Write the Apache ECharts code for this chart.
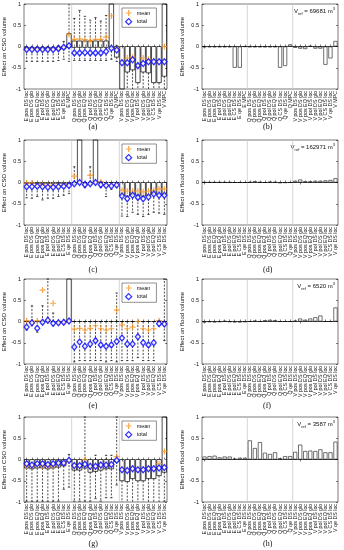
<!DOCTYPE html>
<html><head><meta charset="utf-8">
<script src="https://cdn.jsdelivr.net/npm/echarts@6/dist/echarts.min.js"></script>
<style>html,body{margin:0;padding:0;background:#fff}#c{width:344px;height:550px}</style>
</head><body><div id="c"></div>
<script>
// ---------- categories ----------
const labelsAB = ['E pos DS loc','E pos DS glo','E pos EQ loc','E pol DS loc','E pol DS glo','E pol EQ loc','E CS DS loc','E qe DS loc','E MPC',
  'Q pos DS loc','Q pos DS glo','Q pos EQ loc','Q pol DS loc','Q pol DS glo','Q pol EQ loc','Q CS DS loc','Q qe DS loc','Q MPC',
  'V pos DS loc','V pos DS glo','V pos EQ loc','V pol DS loc','V pol DS glo','V pol EQ loc','V CS DS loc','V qe DS loc','V MPC'];
const labelsCH = ['E pos DS loc','E pos DS glo','E pos EQ loc','E pos EQ glo','E pol DS loc','E pol DS glo','E pol EQ loc','E CS DS loc','E qe DS loc',
  'Q pos DS loc','Q pos DS glo','Q pos EQ loc','Q pos EQ glo','Q pol DS loc','Q pol DS glo','Q pol EQ loc','Q CS DS loc','Q qe DS loc',
  'V pos DS loc','V pos DS glo','V pos EQ loc','V pos EQ glo','V pol DS loc','V pol DS glo','V pol EQ loc','V CS DS loc','V qe DS loc'];
const yTicks = [-1, -0.5, 0, 0.5, 1];
const groupEnds = [8, 17];

// ---------- panel (a) ----------
const aLo   = [-0.35,-0.35,-0.35,-0.35,-0.35,-0.35,-0.33,-0.3,-0.35, -0.33,-0.33,-0.33,-0.33,-0.33,-0.33,-0.33,-0.3,-0.35, -1.5,-1.5,-1.5,-1.5,-1.5,-1.5,-1.5,-1.5,-1.5];
const aQ1   = [-0.08,-0.08,-0.08,-0.08,-0.08,-0.08,-0.07,-0.05,-0.02, -0.02,-0.02,-0.02,-0.02,-0.02,-0.02,-0.02,-0.02,-0.25, -1.2,-0.6,-0.55,-0.85,-0.6,-0.62,-0.85,-0.85,-0.7];
const aQ3   = [-0.02,-0.02,-0.02,-0.02,-0.02,-0.02,-0.01,0.0,0.3, 0.13,0.13,0.13,0.13,0.13,0.13,0.13,1.5,0.0, 0,0,0,0,0,0,0,0,1.5];
const aHi   = [0,0,0,0,0,0,0.02,0.12,1.5, 0.66,0.85,0.71,0.62,0.68,0.6,0.73,1.5,0.02, 0,0,0,0,0,0,0,0,1.5];
const aMean = [-0.06,-0.06,-0.06,-0.06,-0.06,-0.06,-0.04,-0.02,0.28, 0.17,0.18,0.16,0.14,0.17,0.17,0.22,0.72,-0.05, -0.37,-0.27,-0.25,-0.45,-0.27,-0.3,-0.36,-0.36,0.0];
const aTotal= [-0.07,-0.07,-0.07,-0.07,-0.07,-0.07,-0.05,-0.02,0.02, -0.15,-0.15,-0.14,-0.15,-0.15,-0.15,-0.12,-0.04,-0.08, -0.38,-0.38,-0.31,-0.45,-0.4,-0.36,-0.36,-0.36,-0.36];
// ---------- panel (b) ----------
const bFlood = [-0.015,-0.015,-0.015,-0.015,-0.015,-0.015,-0.5,-0.5,-0.005, -0.015,-0.015,-0.015,-0.015,-0.015,-0.015,-0.5,-0.46,0.05, -0.03,-0.05,-0.06,0.01,-0.05,-0.05,-0.43,-0.28,0.13];
// ---------- panel (c) ----------
const cLo   = [-0.36,-0.37,-0.33,-0.41,-0.37,-0.37,-0.33,-0.3,-0.26, -0.05,-0.03,-0.12,-0.05,-0.03,-0.12,-0.33,-0.16,-0.1, -0.79,-0.8,-0.7,-0.75,-0.8,-0.75,-0.7,-0.72,-0.75];
const cQ1   = [-0.02,-0.02,-0.02,-0.02,-0.02,-0.02,-0.02,-0.02,-0.02, 0,0,0,0,0,0,0,0,0, -0.3,-0.32,-0.28,-0.3,-0.32,-0.3,-0.26,-0.28,-0.28];
const cQ3   = [0,0,0,0,0,0,0,0,0, 0,1.5,0,0,1.5,0,0,0,0, 0,0,0,0,0,0,0,0,0];
const cHi   = [0,0,0,0,0,0,0,0,0, 0.37,1.5,0,0.37,1.5,0,0,0,0, 0,0,0,0,0,0,0,0,0];
const cMean = [-0.01,-0.01,-0.07,-0.05,-0.07,-0.06,-0.08,-0.06,-0.05, 0.15,0.0,-0.05,0.17,0.0,0.02,-0.06,-0.07,-0.05, -0.18,-0.2,-0.2,-0.2,-0.22,-0.2,-0.18,-0.15,-0.15];
const cTotal= [-0.1,-0.1,-0.09,-0.1,-0.11,-0.11,-0.1,-0.09,-0.07, -0.03,0.0,-0.05,-0.03,0.0,-0.05,-0.07,-0.08,-0.06, -0.32,-0.38,-0.3,-0.35,-0.38,-0.34,-0.27,-0.3,-0.3];
// ---------- panel (d) ----------
const dFlood = [0.005,0.005,0.005,0.005,0.005,0.005,0.0,0.0,0.0, 0.01,0.03,0.01,0.0,0.02,0.01,-0.01,-0.005,0.0, 0.04,0.07,0.03,0.03,0.04,0.04,0.05,0.06,0.1];
// ---------- panel (e) ----------
const eLo   = [-0.2,-0.1,-0.25,-0.05,-0.03,-0.1,-0.05,-0.05,-0.02, -0.95,-0.92,-0.92,-0.92,-0.92,-0.92,-0.95,-0.92,-0.95, -0.92,-0.92,-0.92,-0.85,-0.92,-0.92,-0.92,-0.1,-0.45];
const eQ1   = [0,0,0,0,0,0,0,0,0, 0,0,0,0,0,0,0,0,0, 0,0,0,0,0,0,0,0,0];
const eQ3   = [0,0,0,0,0,0,0,0,1.5, 0,0,0,0,0,0,0,0,0, 0,0,0,0,0,0,0,0,0];
const eHi   = [0,0.37,0,0.37,1.0,0.2,0,0,1.5, 0,0,0,0,0,0,0,0,0.67, 0,0,0,0,0,0,0,0.02,1.0];
const eMean = [0.02,-0.03,0.02,0.74,0.03,0.43,-0.02,-0.02,0.01, -0.18,-0.16,-0.2,-0.16,-0.1,-0.17,-0.2,-0.17,0.27, -0.08,-0.17,-0.13,0.0,-0.17,-0.2,-0.17,0.02,-0.05];
const eTotal= [-0.13,-0.03,-0.16,-0.02,0.03,-0.04,-0.03,-0.02,0.01, -0.6,-0.48,-0.58,-0.53,-0.45,-0.55,-0.58,-0.55,-0.47, -0.39,-0.53,-0.53,-0.36,-0.5,-0.55,-0.5,-0.05,-0.06];
// ---------- panel (f) ----------
const fFlood = [-0.02,-0.01,-0.02,-0.01,0.01,-0.01,-0.02,-0.02,-0.01, 0.0,0.02,0.0,0.03,0.04,0.03,0.0,0.0,0.0, 0.02,0.07,0.04,0.07,0.1,0.14,0.0,0.0,0.33];
// ---------- panel (g) ----------
const gLo   = [-0.98,-0.98,-0.98,-0.98,-0.98,-0.98,-0.98,-0.7,-0.65, -0.98,-0.98,-0.98,-0.98,-0.92,-0.98,-0.9,-0.9,-0.6, -1.5,-1.5,-1.5,-1.5,-1.5,-1.5,-1.5,-1.5,-0.98];
const gQ1   = [-0.2,-0.22,-0.2,-0.2,-0.22,-0.2,-0.18,-0.15,-0.05, -0.25,-0.25,-0.2,-0.3,-0.28,-0.25,-0.22,-0.22,-0.05, -0.5,-0.52,-0.45,-0.5,-0.5,-0.45,-0.45,-0.38,-0.3];
const gQ3   = [0,0,0,0,0,0,0,0,0, 0,0,0,0,0,0,0,0,0, 0,0,0,0,0,0,0,0,1.5];
const gHi   = [0,0,0,0,0,0,0,0,0.12, 0,0,1.0,0,0.1,0,0.1,0.1,1.0, 0,0,0,0,0,0,0,0,1.5];
const gMean = [-0.15,-0.15,-0.14,-0.15,-0.16,-0.15,-0.1,-0.1,-0.02, -0.16,-0.16,0.0,-0.18,-0.18,-0.15,-0.14,-0.14,0.07, -0.24,-0.26,-0.22,-0.24,-0.24,-0.22,-0.22,-0.1,0.19];
const gTotal= [-0.1,-0.13,-0.1,-0.1,-0.12,-0.1,-0.08,-0.08,-0.02, -0.14,-0.14,-0.11,-0.16,-0.16,-0.13,-0.13,-0.12,-0.02, -0.24,-0.26,-0.22,-0.24,-0.24,-0.22,-0.22,-0.2,-0.19];
// ---------- panel (h) ----------
const hFlood = [0.07,0.08,0.09,0.05,0.07,0.07,0.02,0.04,0.04, 0.45,0.27,0.41,0.16,0.13,0.17,0.03,0.08,0.08, 0.18,0.35,0.2,0.21,0.2,0.24,0.17,0.17,0.42];
// ---------- annotation texts ----------
const vrefTexts = ['69681', '162971', '6520', '3587'];
const letters = ['(a)','(b)','(c)','(d)','(e)','(f)','(g)','(h)'];

// ---------- layout ----------
const FONT = 'Liberation Sans, Arial, sans-serif';
const ORANGE = '#f7931e', BLUE = '#0000ff';
const LPOS = {left: 24, width: 143}, RPOS = {left: 202, width: 136};
const TOPS = [4, 140, 279, 417], H = 85;
const LETTER_Y = [128, 271, 407, 545];

const csoPanels = [
  {labels: labelsAB, lo: aLo, q1: aQ1, q3: aQ3, hi: aHi, mean: aMean, total: aTotal},
  {labels: labelsCH, lo: cLo, q1: cQ1, q3: cQ3, hi: cHi, mean: cMean, total: cTotal},
  {labels: labelsCH, lo: eLo, q1: eQ1, q3: eQ3, hi: eHi, mean: eMean, total: eTotal},
  {labels: labelsCH, lo: gLo, q1: gQ1, q3: gQ3, hi: gHi, mean: gMean, total: gTotal}
];
const floodPanels = [
  {labels: labelsAB, v: bFlood}, {labels: labelsCH, v: dFlood},
  {labels: labelsCH, v: fFlood}, {labels: labelsCH, v: hFlood}
];

const grid = [], xAxis = [], yAxis = [], series = [], legend = [], graphic = [];
const PLUS = 'path://M4,0H6V4H10V6H6V10H4V6H0V4H4Z';
const clamp = v => Math.max(-1, Math.min(1, v));

function addAxes(gi, labels, name) {
  const tick = {show: true, inside: true, length: 2, alignWithLabel: true, lineStyle: {color: '#000', width: 0.5}};
  const xi = xAxis.length;
  xAxis.push({gridIndex: gi, type: 'category', data: labels, position: 'bottom',
    axisLine: {show: false}, axisTick: tick, splitLine: {show: false},
    axisLabel: {rotate: 90, interval: 0, fontSize: 5.3, margin: 2, color: '#111', fontFamily: FONT}});
  xAxis.push({gridIndex: gi, type: 'category', data: labels, position: 'top',
    axisLine: {show: false}, axisTick: tick, axisLabel: {show: false}, splitLine: {show: false}});
  const yi = yAxis.length;
  const ytick = {show: true, inside: true, length: 2, lineStyle: {color: '#000', width: 0.5}};
  yAxis.push({gridIndex: gi, type: 'value', min: yTicks[0], max: yTicks[yTicks.length - 1], interval: 0.5,
    position: 'left', axisLine: {show: false}, axisTick: ytick, splitLine: {show: false},
    axisLabel: {fontSize: 5.5, margin: 3, color: '#111', fontFamily: FONT},
    name: name, nameLocation: 'middle', nameGap: 16,
    nameTextStyle: {fontSize: 6, color: '#111', fontFamily: FONT}});
  yAxis.push({gridIndex: gi, type: 'value', min: yTicks[0], max: yTicks[yTicks.length - 1], interval: 0.5,
    position: 'right', axisLine: {show: false}, axisTick: ytick, axisLabel: {show: false}, splitLine: {show: false}});
  return {xi, yi};
}

function sepSeries(ax) {
  return {type: 'custom', xAxisIndex: ax.xi, yAxisIndex: ax.yi, silent: true, z: 1,
    data: groupEnds.map(g => [g]),
    renderItem: (p, api) => {
      const i = api.value(0);
      const x = (api.coord([i, 0])[0] + api.coord([i + 1, 0])[0]) / 2;
      const y0 = api.coord([i, -1])[1], y1 = api.coord([i, 1])[1];
      return {type: 'line', shape: {x1: x, y1: y0, x2: x, y2: y1}, style: {stroke: '#cccccc', lineWidth: 0.8}};
    }};
}

for (let r = 0; r < 4; r++) {
  const cp = csoPanels[r];
  let gi = grid.length;
  grid.push({left: LPOS.left, width: LPOS.width, top: TOPS[r], height: H, show: true,
    borderColor: '#222', borderWidth: 0.6, backgroundColor: '#fff'});
  let ax = addAxes(gi, cp.labels, 'Effect on CSO volume');
  series.push(sepSeries(ax));
  series.push({type: 'custom', name: 'box', xAxisIndex: ax.xi, yAxisIndex: ax.yi, silent: true, z: 2,
    data: cp.labels.map((_, i) => [i, cp.lo[i], cp.q1[i], cp.q3[i], cp.hi[i]]),
    renderItem: (p, api) => {
      const i = api.value(0), lo = api.value(1), q1 = api.value(2), q3 = api.value(3), hi = api.value(4);
      const bw = api.size([1, 0])[0];
      const x = api.coord([i, 0])[0];
      const Y = v => api.coord([i, clamp(v)])[1];
      const hb = bw * 0.42, hc = bw * 0.22;
      const dash = {stroke: '#000', lineWidth: 0.7, lineDash: [2, 1.5]};
      const solid = {stroke: '#000', lineWidth: 0.7};
      const ch = [];
      if (hi > q3) {
        ch.push({type: 'line', shape: {x1: x, y1: Y(q3), x2: x, y2: Y(hi)}, style: dash});
        if (hi <= 1) ch.push({type: 'line', shape: {x1: x - hc, y1: Y(hi), x2: x + hc, y2: Y(hi)}, style: solid});
      }
      if (lo < q1) {
        ch.push({type: 'line', shape: {x1: x, y1: Y(q1), x2: x, y2: Y(lo)}, style: dash});
        if (lo >= -1) ch.push({type: 'line', shape: {x1: x - hc, y1: Y(lo), x2: x + hc, y2: Y(lo)}, style: solid});
      }
      const yt = Y(q3), yb = Y(q1);
      ch.push({type: 'rect', shape: {x: x - hb, y: yt, width: 2 * hb, height: Math.max(0.01, yb - yt)},
        style: {fill: 'none', stroke: '#000', lineWidth: 0.7}});
      return {type: 'group', children: ch};
    }});
  series.push({type: 'scatter', name: 'mean', xAxisIndex: ax.xi, yAxisIndex: ax.yi, z: 3,
    symbol: PLUS, symbolSize: 6, itemStyle: {color: ORANGE}, data: cp.mean});
  series.push({type: 'scatter', name: 'total', xAxisIndex: ax.xi, yAxisIndex: ax.yi, z: 4,
    symbol: 'diamond', symbolSize: [5, 6], itemStyle: {color: '#fff', borderColor: BLUE, borderWidth: 1.3}, data: cp.total});
  legend.push({left: 122, top: TOPS[r] + 4, orient: 'vertical', itemWidth: 6, itemHeight: 6, itemGap: 2,
    padding: [2, 6, 2, 3], borderColor: '#222', borderWidth: 0.5, backgroundColor: '#fff',
    textStyle: {fontSize: 5.5, color: '#111', fontFamily: FONT},
    data: [{name: 'mean', icon: PLUS, itemStyle: {color: ORANGE}},
           {name: 'total', icon: 'diamond', itemStyle: {color: '#fff', borderColor: BLUE, borderWidth: 1.3}}]});
  graphic.push({type: 'text', left: LPOS.left + LPOS.width / 2 - 7, top: LETTER_Y[r] - 5,
    style: {text: letters[2 * r], fontSize: 8, fontFamily: 'Liberation Serif, serif', fill: '#111'}});

  const fp = floodPanels[r];
  gi = grid.length;
  grid.push({left: RPOS.left, width: RPOS.width, top: TOPS[r], height: H, show: true,
    borderColor: '#222', borderWidth: 0.6, backgroundColor: '#fff'});
  ax = addAxes(gi, fp.labels, 'Effect on flood volume');
  series.push(sepSeries(ax));
  series.push({type: 'bar', name: 'flood', xAxisIndex: ax.xi, yAxisIndex: ax.yi, z: 2, barWidth: '82%',
    itemStyle: {color: '#fff', borderColor: '#333', borderWidth: 0.7}, data: fp.v,
    markLine: {silent: true, symbol: 'none', label: {show: false}, lineStyle: {color: '#000', width: 0.7, type: 'solid'},
      data: [{yAxis: 0}]}});
  graphic.push({type: 'text', right: 344 - (RPOS.left + RPOS.width) + 3, top: TOPS[r] + 3,
    style: {text: '{v|V}{s|ref}{v| = ' + vrefTexts[r] + ' m}{p|3}',
      rich: {v: {fontSize: 6, lineHeight: 9, fontFamily: FONT, fill: '#111', verticalAlign: 'middle'},
             s: {fontSize: 4, lineHeight: 9, fontFamily: FONT, fill: '#111', verticalAlign: 'bottom'},
             p: {fontSize: 4, lineHeight: 9, fontFamily: FONT, fill: '#111', verticalAlign: 'top'}}}});
  graphic.push({type: 'text', left: RPOS.left + RPOS.width / 2 - 7, top: LETTER_Y[r] - 5,
    style: {text: letters[2 * r + 1], fontSize: 8, fontFamily: 'Liberation Serif, serif', fill: '#111'}});
}

const chart = echarts.init(document.getElementById('c'), null, {renderer: 'canvas'});
chart.setOption({animation: false, backgroundColor: '#fff', grid, xAxis, yAxis, series, legend, graphic});
</script></body></html>
